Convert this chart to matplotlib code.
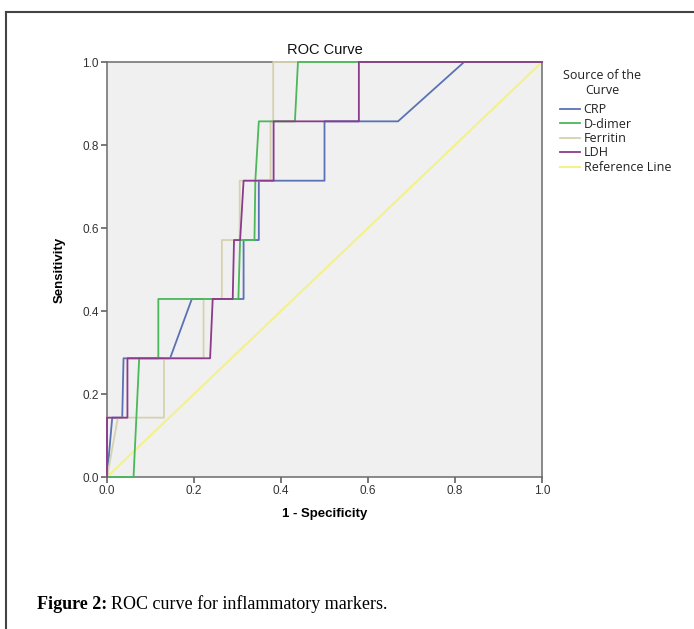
import matplotlib
matplotlib.use("Agg")
import matplotlib.pyplot as plt
from matplotlib.lines import Line2D

# --- ROC points (x = 1 - specificity, y = sensitivity) ---
crp_x = [0.0, 0.012, 0.035, 0.038, 0.145, 0.195, 0.314, 0.314, 0.349, 0.349, 0.5, 0.5, 0.669, 0.821, 1.0]
crp_y = [0.0, 0.143, 0.143, 0.286, 0.286, 0.429, 0.429, 0.571, 0.571, 0.714, 0.714, 0.857, 0.857, 1.0, 1.0]

ddimer_x = [0.0, 0.061, 0.074, 0.118, 0.118, 0.302, 0.306, 0.339, 0.341, 0.349, 0.432, 0.439, 1.0]
ddimer_y = [0.0, 0.0, 0.286, 0.286, 0.429, 0.429, 0.571, 0.571, 0.714, 0.857, 0.857, 1.0, 1.0]

ferritin_x = [0.0, 0.025, 0.131, 0.131, 0.222, 0.222, 0.264, 0.264, 0.305, 0.305, 0.376, 0.376, 0.382, 0.382, 1.0]
ferritin_y = [0.0, 0.143, 0.143, 0.286, 0.286, 0.429, 0.429, 0.571, 0.571, 0.714, 0.714, 0.857, 0.857, 1.0, 1.0]

ldh_x = [0.0, 0.0, 0.047, 0.047, 0.237, 0.243, 0.289, 0.292, 0.306, 0.314, 0.383, 0.383, 0.579, 0.579, 1.0]
ldh_y = [0.0, 0.143, 0.143, 0.286, 0.286, 0.429, 0.429, 0.571, 0.571, 0.714, 0.714, 0.857, 0.857, 1.0, 1.0]

ref_x = [0.0, 1.0]
ref_y = [0.0, 1.0]

ticks = [0.0, 0.2, 0.4, 0.6, 0.8, 1.0]
tick_labels = ["0.0", "0.2", "0.4", "0.6", "0.8", "1.0"]

series = [
    ("CRP", crp_x, crp_y, "#5a72b5"),
    ("D-dimer", ddimer_x, ddimer_y, "#4cb85a"),
    ("Ferritin", ferritin_x, ferritin_y, "#d6d2b0"),
    ("LDH", ldh_x, ldh_y, "#8c3a8c"),
]
ref_color = "#f4f08c"

plt.rcParams["font.family"] = ["Liberation Sans", "DejaVu Sans"]

W, H = 694, 629
fig = plt.figure(figsize=(W / 100, H / 100), dpi=100)
fig.patch.set_facecolor("white")

# plot area in pixels: x 107..542, y 62..477
ax = fig.add_axes([107 / W, 1 - 477 / H, 435 / W, 415 / H])
ax.set_facecolor("#f0f0f0")

ax.plot(ref_x, ref_y, color=ref_color, lw=1.5, clip_on=False, zorder=2)
# draw order so purple lands on top like in the original
for name, xs, ys, col in [series[0], series[2], series[1], series[3]]:
    ax.plot(xs, ys, color=col, lw=1.3, clip_on=False, zorder=3)

ax.set_xlim(0, 1)
ax.set_ylim(0, 1)
ax.set_xticks(ticks)
ax.set_xticklabels(tick_labels)
ax.set_yticks(ticks)
ax.set_yticklabels(tick_labels)
for sp in ax.spines.values():
    sp.set_color("#6b6b6b")
    sp.set_linewidth(1.1)
ax.tick_params(direction="out", length=4, width=1.1, color="#555555",
               labelsize=8.5, labelcolor="#333333", pad=2)

ax.set_title("ROC Curve", fontsize=10.5, pad=6, color="#111111")
ax.set_xlabel("1 - Specificity", fontsize=9.5, fontweight="bold", labelpad=8)
ax.set_ylabel("Sensitivity", fontsize=9.5, fontweight="bold", labelpad=12)

# legend (title drawn separately so the gap under it matches)
leg_font = ["Open Sans", "DejaVu Sans"]
fig.text(602 / W, 1 - 83 / H, "Source of the\nCurve", ha="center", va="center",
         multialignment="center", family=leg_font, fontsize=9, color="#222222",
         linespacing=1.25)
handles = [Line2D([], [], color=c, lw=1.3) for _, _, _, c in series]
handles.append(Line2D([], [], color=ref_color, lw=1.5))
labels = [s[0] for s in series] + ["Reference Line"]
leg = fig.legend(handles, labels, loc="upper left",
                 bbox_to_anchor=(560 / W, 1 - 103 / H), frameon=False,
                 labelspacing=0.12, handlelength=1.6, handletextpad=0.3,
                 borderaxespad=0, borderpad=0,
                 prop={"family": leg_font, "size": 9})
for t in leg.get_texts():
    t.set_color("#222222")

# page frame lines
fig.add_artist(Line2D([6 / W, 1.0], [1 - 12 / H, 1 - 12 / H], color="#444444", lw=1.5,
                      transform=fig.transFigure))
fig.add_artist(Line2D([6 / W, 6 / W], [0.0, 1 - 12 / H], color="#444444", lw=1.5,
                      transform=fig.transFigure))

# caption
cap_y = 1 - 609 / H
t1 = fig.text(37 / W, cap_y, "Figure 2:", fontsize=13, fontweight="bold",
              family=["Liberation Serif", "DejaVu Serif"], va="baseline")
fig.canvas.draw()
bb = t1.get_window_extent(renderer=fig.canvas.get_renderer())
fig.text(bb.x1 / W + 4 / W, cap_y, "ROC curve for inflammatory markers.", fontsize=13,
         family=["Liberation Serif", "DejaVu Serif"], va="baseline")

fig.savefig("out.png", dpi=100)
